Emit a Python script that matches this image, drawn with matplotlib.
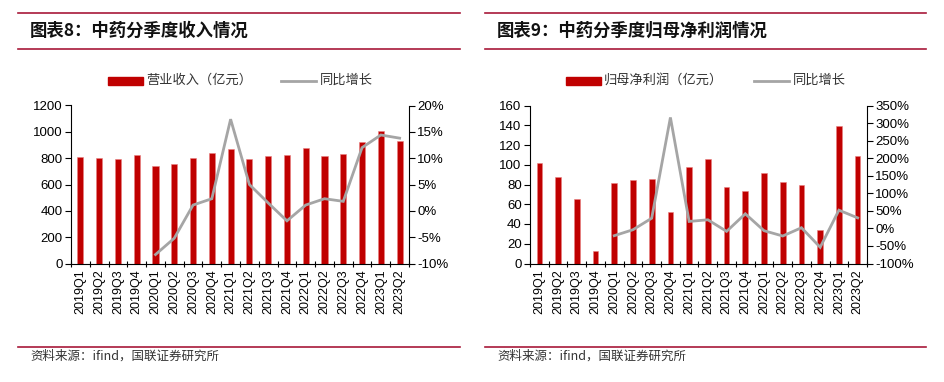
import matplotlib
matplotlib.use("Agg")
import matplotlib.pyplot as plt
from matplotlib.patches import Rectangle
from matplotlib.lines import Line2D
from matplotlib.ticker import FuncFormatter, MultipleLocator, FixedLocator

quarters = ["2019Q1", "2019Q2", "2019Q3", "2019Q4", "2020Q1", "2020Q2", "2020Q3", "2020Q4",
            "2021Q1", "2021Q2", "2021Q3", "2021Q4", "2022Q1", "2022Q2", "2022Q3", "2022Q4",
            "2023Q1", "2023Q2"]
revenue = [806, 798, 793, 821, 740, 758, 802, 843, 869, 796, 816, 826, 880, 816, 831, 924, 1004, 928]
revenue_yoy = [None, None, None, None, -8.3, -5.2, 1.1, 2.3, 17.4, 5.0, 1.5, -1.9, 1.1, 2.3, 1.8, 12.0, 14.4, 13.8]
profit = [101.7, 87.2, 65.4, 12.4, 81.2, 84.2, 85.6, 52.3, 97.3, 105.7, 77.5, 73.5, 91.3, 82.9, 79.5, 33.9, 139.6, 108.7]
profit_yoy = [None, None, None, None, -20.8, -3.8, 29, 316, 19.8, 24.5, -8.5, 41.5, -6.6, -21.7, 1.9, -53.8, 51.9, 30]

title_left = "图表8：中药分季度收入情况"
title_right = "图表9：中药分季度归母净利润情况"
legend_left = ["营业收入（亿元）", "同比增长"]
legend_right = ["归母净利润（亿元）", "同比增长"]
source = "资料来源：ifind，国联证券研究所"

W, H = 945, 382
RED = "#C00000"
GRAY = "#A5A5A5"
LINE_RED = "#A8193A"
CJK = ["Noto Sans CJK SC", "DejaVu Sans"]
NUM = ["Liberation Sans", "DejaVu Sans"]

fig = plt.figure(figsize=(W / 100, H / 100), dpi=100)


def fx(px):
    return px / W


def fy(py):
    return 1 - py / H


def hline(x0, x1, y, color=LINE_RED, lw=1.2):
    fig.add_artist(Line2D([fx(x0), fx(x1)], [fy(y), fy(y)], color=color, lw=lw, transform=fig.transFigure))


def panel(x0, x1, ax_l, ax_r, title, leg, leg_pos, bars, yoy, ylim, ystep, y2lim, y2step, bw):
    hline(x0, x1, 13)
    hline(x0, x1, 49)
    hline(x0, x1, 347)
    fig.text(fx(x0 + 12), fy(31), title, family=CJK, fontsize=12.5, fontweight="bold",
             va="center", ha="left", color="#111111")
    fig.text(fx(x0 + 12), fy(356), source, family=CJK, fontsize=9, va="center", ha="left", color="#333333")
    # legend
    rx, gx = leg_pos
    fig.add_artist(Rectangle((fx(rx), fy(84.5)), fx(35), 7.5 / H, color=RED, transform=fig.transFigure))
    fig.text(fx(rx + 38), fy(80.5), leg[0], family=CJK, fontsize=9.5, va="center", ha="left", color="#333333")
    fig.add_artist(Line2D([fx(gx), fx(gx + 35)], [fy(80.5), fy(80.5)], color=GRAY, lw=2,
                          transform=fig.transFigure))
    fig.text(fx(gx + 39), fy(80.5), leg[1], family=CJK, fontsize=9.5, va="center", ha="left", color="#333333")

    ax = fig.add_axes([fx(ax_l), fy(263.5), fx(ax_r - ax_l), (263.5 - 105.5) / H])
    x = list(range(len(quarters)))
    ax.bar(x, bars, width=bw, color=RED, edgecolor="#E88080", linewidth=0.4, zorder=2)
    ax.set_xlim(-0.5, len(quarters) - 0.5)
    ax.set_ylim(*ylim)
    ax.yaxis.set_major_locator(MultipleLocator(ystep))
    ax.set_xticks(x)
    ax.set_xticklabels(quarters, rotation=90, family=NUM, fontsize=9)
    ax.xaxis.set_minor_locator(FixedLocator([i - 0.5 for i in range(len(quarters) + 1)]))
    ax.tick_params(axis="x", which="major", length=0, pad=4)
    ax.tick_params(axis="x", which="minor", length=4, width=0.8, direction="inout")
    ax.tick_params(axis="y", length=4, width=0.8, direction="out", labelsize=9.5, pad=2)
    for lab in ax.get_yticklabels():
        lab.set_family(NUM)
    ax.spines["top"].set_visible(False)
    ax.spines["right"].set_visible(False)
    for s in ("left", "bottom"):
        ax.spines[s].set_linewidth(0.8)

    ax2 = ax.twinx()
    xs = [i for i, v in enumerate(yoy) if v is not None]
    vs = [v for v in yoy if v is not None]
    ax2.plot(xs, vs, color=GRAY, lw=2, zorder=3, solid_joinstyle="miter")
    ax2.set_ylim(*y2lim)
    ax2.yaxis.set_major_locator(MultipleLocator(y2step))
    ax2.yaxis.set_major_formatter(FuncFormatter(lambda v, p: f"{v:.0f}%"))
    ax2.tick_params(axis="y", length=4, width=0.8, direction="out", labelsize=9.5, pad=2)
    for lab in ax2.get_yticklabels():
        lab.set_family(NUM)
    ax2.spines["top"].set_visible(False)
    ax2.spines["left"].set_visible(False)
    ax2.spines["bottom"].set_visible(False)
    ax2.spines["right"].set_linewidth(0.8)


panel(18, 460, 71, 409, title_left, legend_left, (108, 281), revenue, revenue_yoy,
      (0, 1200), 200, (-10, 20), 5, 0.33)
panel(485, 926, 530, 867, title_right, legend_right, (566, 754), profit, profit_yoy,
      (0, 160), 20, (-100, 350), 50, 0.3)

fig.savefig("out.png", dpi=100)
